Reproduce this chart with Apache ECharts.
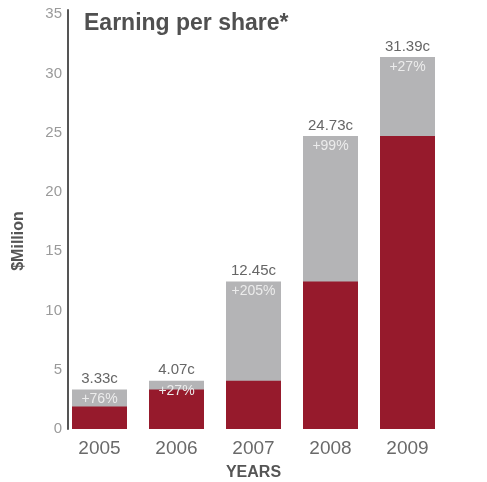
<!DOCTYPE html>
<html>
<head>
<meta charset="utf-8">
<script src="https://cdn.jsdelivr.net/npm/echarts@6/dist/echarts.min.js"></script>
<style>
  html, body { margin: 0; padding: 0; background: #fff; }
  #chart { width: 487px; height: 482px; }
</style>
</head>
<body>
<div id="chart"></div>
<script>
// Earnings per share by year (cents)
const years = ['2005', '2006', '2007', '2008', '2009'];
const eps = [3.33, 4.07, 12.45, 24.73, 31.39];          // current year total
const priorEps = [1.89, 3.33, 4.07, 12.45, 24.73];      // previous year level
const growth = ['+76%', '+27%', '+205%', '+99%', '+27%'];
const yTicks = [0, 5, 10, 15, 20, 25, 30, 35];

const FONT = '"Liberation Sans", Arial, Helvetica, sans-serif';
const RED = '#961a2c';
const GREY = '#b4b4b6';

const chart = echarts.init(document.getElementById('chart'));
chart.setOption({
  animation: false,
  title: {
    text: 'Earning per share*',
    left: 79, top: 7,
    textStyle: { fontFamily: FONT, fontSize: 23, fontWeight: 'bold', color: '#505050' }
  },
  graphic: [{
    type: 'text',
    x: 19, y: 241,
    rotation: Math.PI / 2,
    style: {
      text: '$Million',
      fontFamily: FONT, fontSize: 16, fontWeight: 'bold', fill: '#555',
      align: 'center', verticalAlign: 'middle'
    }
  }],
  grid: { left: 61, right: 41, top: 10, bottom: 53, containLabel: false, outerBoundsMode: 'none' },
  xAxis: {
    type: 'category',
    data: years,
    axisLine: { show: false },
    axisTick: { show: false },
    axisLabel: { color: '#6a6a6a', fontSize: 19, fontFamily: FONT, margin: 10 },
    name: 'YEARS',
    nameLocation: 'middle',
    nameGap: 36,
    nameTextStyle: { color: '#555', fontSize: 16, fontWeight: 'bold', fontFamily: FONT }
  },
  yAxis: {
    type: 'value',
    min: yTicks[0],
    max: 35.35,
    interval: 5,
    offset: -7,
    splitLine: { show: false },
    axisTick: { show: false },
    axisLine: { show: true, lineStyle: { color: '#555', width: 2 } },
    axisLabel: {
      color: '#9a9a9a', fontSize: 15, fontFamily: FONT, margin: 6,
      formatter: v => (yTicks.indexOf(v) >= 0 ? String(v) : '')
    }
  },
  series: [
    {
      name: 'EPS',
      type: 'bar',
      data: eps,
      barWidth: 55,
      barGap: '-100%',
      itemStyle: { color: GREY },
      label: {
        show: true, position: 'top', distance: 3,
        color: '#666', fontSize: 15, fontFamily: FONT,
        formatter: p => p.value + 'c'
      }
    },
    {
      name: 'Prior',
      type: 'bar',
      data: priorEps,
      barWidth: 55,
      barGap: '-100%',
      itemStyle: { color: RED }
    },
    {
      name: 'Growth',
      type: 'bar',
      data: eps,
      barWidth: 55,
      barGap: '-100%',
      itemStyle: { color: 'rgba(0,0,0,0)' },
      label: {
        show: true, position: 'insideTop', distance: 3,
        color: '#ececec', fontSize: 14, fontFamily: FONT,
        formatter: p => growth[p.dataIndex]
      }
    }
  ]
});
</script>
</body>
</html>
